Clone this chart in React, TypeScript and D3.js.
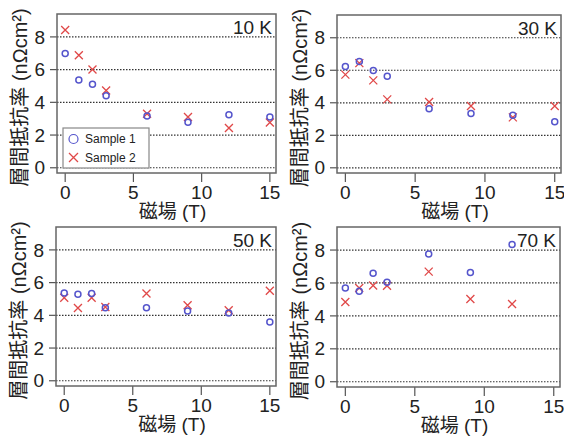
import React from "react";
import * as d3 from "d3";

const fields = [0, 1, 2, 3, 6, 9, 12, 15];
const temps = ["10 K", "30 K", "50 K", "70 K"];
const sample1 = [
  [6.98, 5.36, 5.1, 4.41, 3.16, 2.79, 3.24, 3.1],
  [6.23, 6.54, 5.99, 5.63, 3.64, 3.34, 3.24, 2.83],
  [5.37, 5.29, 5.33, 4.47, 4.47, 4.27, 4.14, 3.59],
  [5.69, 5.49, 6.59, 6.05, 7.76, 6.63, 8.34, null],
];
const sample2 = [
  [8.42, 6.88, 6.01, 4.72, 3.3, 3.1, 2.43, 2.77],
  [5.73, 6.44, 5.38, 4.21, 4.05, 3.8, 3.1, 3.8],
  [5.07, 4.45, 5.07, 4.51, 5.33, 4.62, 4.31, 5.5],
  [4.84, 5.69, 5.85, 5.83, 6.69, 5.03, 4.72, null],
];
const xTicks = [0, 5, 10, 15];
const yTicks = [0, 2, 4, 6, 8];
const seriesNames = ["Sample 1", "Sample 2"];
const yLabel = "層間抵抗率 (nΩcm²)";
const xLabel = "磁場 (T)";

const BLUE = "#5555cc";
const RED = "#e04848";
const FONT = "'Liberation Sans', Arial, 'Noto Sans CJK JP', sans-serif";

const panels = [
  { x0: 57, x1: 276, y0: 14, y1: 173 },
  { x0: 337, x1: 561, y0: 15, y1: 173 },
  { x0: 56, x1: 276, y0: 227, y1: 386 },
  { x0: 337, x1: 560, y0: 227, y1: 387 },
];

function Panel({ idx }: { idx: number }) {
  const p = panels[idx];
  const x = d3.scaleLinear().domain([-0.6, 15.45]).range([p.x0, p.x1]);
  const y = d3.scaleLinear().domain([-0.32, 9.4]).range([p.y1, p.y0]);
  const s1 = fields.map((f, i) => ({ f, v: sample1[idx][i] })).filter((d) => d.v != null);
  const s2 = fields.map((f, i) => ({ f, v: sample2[idx][i] })).filter((d) => d.v != null);
  const cx = (p.x0 + p.x1) / 2 + 6;
  const cy = (p.y0 + p.y1) / 2 + 4;
  const labelX = p.x0 - 37;
  return (
    <g>
      <rect x={p.x0} y={p.y0} width={p.x1 - p.x0} height={p.y1 - p.y0} fill="white" />
      {yTicks.map((t) => (
        <g key={"g" + t}>
          <line x1={p.x0} x2={p.x1} y1={y(t)} y2={y(t)} stroke="#333" strokeWidth={1.2} strokeDasharray="1.5,1.5" />
          <line x1={p.x0 - 7} x2={p.x0} y1={y(t)} y2={y(t)} stroke="#555" strokeWidth={1.2} />
          <text x={p.x0 - 12} y={y(t)} dy="0.35em" textAnchor="end" fontSize={19} fill="#222" fontFamily={FONT}>
            {t}
          </text>
        </g>
      ))}
      {xTicks.map((t) => (
        <g key={"x" + t}>
          <line x1={x(t)} x2={x(t)} y1={p.y1} y2={p.y1 + 9} stroke="#555" strokeWidth={1.2} />
          <text x={x(t)} y={p.y1 + 26} textAnchor="middle" fontSize={19} fill="#222" fontFamily={FONT}>
            {t}
          </text>
        </g>
      ))}
      <rect x={p.x0} y={p.y0} width={p.x1 - p.x0} height={p.y1 - p.y0} fill="none" stroke="#666" strokeWidth={1.5} />
      {s2.map((d, i) => (
        <path
          key={"c" + i}
          d={`M${x(d.f) - 4},${y(d.v!) - 4}L${x(d.f) + 4},${y(d.v!) + 4}M${x(d.f) - 4},${y(d.v!) + 4}L${x(d.f) + 4},${y(d.v!) - 4}`}
          stroke={RED}
          strokeWidth={1.3}
          fill="none"
        />
      ))}
      {s1.map((d, i) => (
        <circle key={"o" + i} cx={x(d.f)} cy={y(d.v!)} r={3} fill="none" stroke={BLUE} strokeWidth={1.5} />
      ))}
      <text x={p.x1 - 4} y={p.y0 + 20} textAnchor="end" fontSize={19} fill="#222" fontFamily={FONT}>
        {temps[idx]}
      </text>
      <text x={cx} y={p.y1 + 45} textAnchor="middle" fontSize={19} fill="#222" fontFamily={FONT}>
        {xLabel}
      </text>
      <text
        transform={`translate(${labelX},${cy}) rotate(-90)`}
        textAnchor="middle"
        dy="0.35em"
        fontSize={20}
        fill="#222"
        fontFamily={FONT}
      >
        {yLabel}
      </text>
      {idx === 0 && (
        <g>
          <rect x={63} y={128} width={86} height={40} fill="white" stroke="#888" strokeWidth={1.2} />
          <circle cx={73.5} cy={139} r={4.5} fill="none" stroke={BLUE} strokeWidth={1.2} />
          <path d="M69,153L78,162M69,162L78,153" stroke={RED} strokeWidth={1.3} />
          <text x={85} y={139} dy="0.35em" fontSize={12} fill="#222" fontFamily={FONT}>
            {seriesNames[0]}
          </text>
          <text x={85} y={157.5} dy="0.35em" fontSize={12} fill="#222" fontFamily={FONT}>
            {seriesNames[1]}
          </text>
        </g>
      )}
    </g>
  );
}

export default function App() {
  return (
    <svg width={564} height={436} style={{ position: "absolute", left: 0, top: 0, background: "white" }}>
      <rect width={564} height={436} fill="white" />
      {[0, 1, 2, 3].map((i) => (
        <Panel key={i} idx={i} />
      ))}
    </svg>
  );
}
